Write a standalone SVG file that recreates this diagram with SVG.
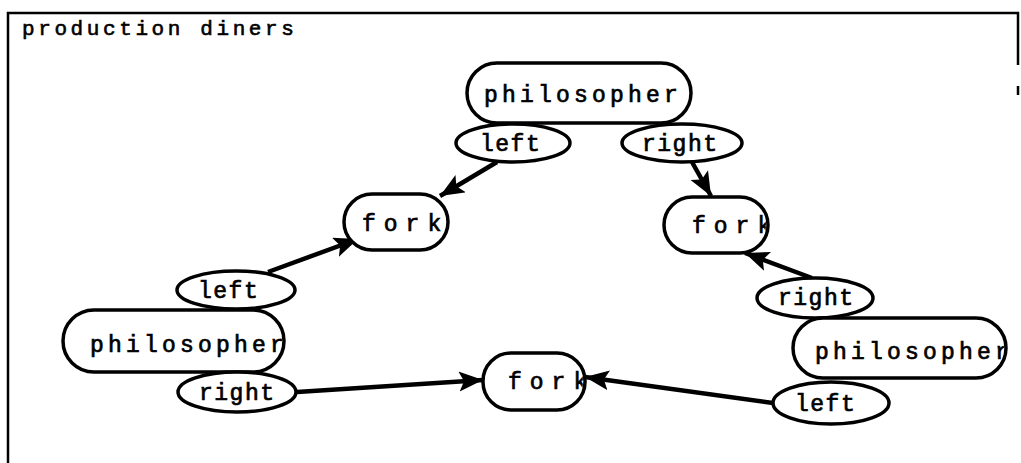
<svg xmlns="http://www.w3.org/2000/svg" width="1021" height="463" viewBox="0 0 1021 463">
<style>
.bg{fill:#fff}
.frame{fill:none;stroke:#000;stroke-width:2.5}
.node{fill:#fff;stroke:#000;stroke-width:3.5}
.lbl{fill:#fff;stroke:#000;stroke-width:3.5}
.t{font-family:"Liberation Mono","Courier New",monospace;font-size:23px;fill:#000;stroke:#000;stroke-width:0.7}
.tp{letter-spacing:4.2px}
.tl{letter-spacing:1.5px}
.tf{letter-spacing:8px}
.title{font-family:"Liberation Mono","Courier New",monospace;font-size:21px;letter-spacing:3.6px;fill:#000;stroke:#000;stroke-width:0.6}
.edge{stroke:#000;stroke-width:4.5;fill:none;marker-end:url(#ah)}
</style>
<defs>
<marker id="ah" markerUnits="userSpaceOnUse" markerWidth="26" markerHeight="22" refX="24" refY="10" orient="auto">
<path d="M0,0 L24,10 L0,20 L5,10 z" fill="#000"/>
</marker>
<clipPath id="cTR"><rect x="664" y="197" width="102" height="56" rx="28"/></clipPath>
<clipPath id="cB"><rect x="483" y="353" width="100" height="57" rx="28"/></clipPath>
<clipPath id="cPL"><rect x="63" y="310" width="219" height="62" rx="31"/></clipPath>
<clipPath id="cPR"><rect x="793" y="318" width="211" height="60" rx="30"/></clipPath>
</defs>
<rect class="bg" x="0" y="0" width="1021" height="463"/>
<g id="frame">
<path class="frame" d="M8,463 L8,13 L1018,13 L1018,65"/>
<path class="frame" d="M1018,86 L1018,95"/>
<text class="title" x="22" y="35">production diners</text>
</g>
<g id="connectors">
<line class="edge" x1="497" y1="162" x2="440" y2="196"/>
<line class="edge" x1="692" y1="162" x2="711" y2="196"/>
<line class="edge" x1="268" y1="272" x2="358" y2="239"/>
<line class="edge" x1="812" y1="278" x2="745" y2="253"/>
<line class="edge" x1="297" y1="392" x2="483" y2="380"/>
<line class="edge" x1="773" y1="403" x2="585" y2="377"/>
</g>
<g id="philosopher-top">
<rect class="node" x="467" y="63" width="224" height="60" rx="30"/>
<text class="t tp" x="484" y="102">philosopher</text>
</g>
<g id="label-top-left">
<ellipse class="lbl" cx="513" cy="143" rx="57" ry="19"/>
<text class="t tl" x="480" y="151">left</text>
</g>
<g id="label-top-right">
<ellipse class="lbl" cx="682" cy="143" rx="60" ry="19"/>
<text class="t tl" x="642" y="151">right</text>
</g>
<g id="fork-top-left">
<rect class="node" x="344" y="194" width="104" height="56" rx="28"/>
<text class="t tf" x="362" y="231">fork</text>
</g>
<g id="fork-top-right">
<rect class="node" x="664" y="197" width="104" height="56" rx="28"/>
<text class="t tf" x="692" y="233" clip-path="url(#cTR)">fork</text>
</g>
<g id="philosopher-left">
<rect class="node" x="63" y="310" width="221" height="62" rx="31"/>
<text class="t tp" x="90" y="352" clip-path="url(#cPL)">philosopher</text>
</g>
<g id="label-left-left">
<ellipse class="lbl" cx="236" cy="290" rx="59" ry="19"/>
<text class="t tl" x="198" y="298">left</text>
</g>
<g id="label-left-right">
<ellipse class="lbl" cx="237" cy="392" rx="59" ry="20"/>
<text class="t tl" x="199" y="400">right</text>
</g>
<g id="fork-bottom">
<rect class="node" x="483" y="353" width="102" height="57" rx="28"/>
<text class="t tf" x="508" y="389" clip-path="url(#cB)">fork</text>
</g>
<g id="label-right-right">
<ellipse class="lbl" cx="815" cy="298" rx="58" ry="20"/>
<text class="t tl" x="778" y="305">right</text>
</g>
<g id="philosopher-right">
<rect class="node" x="793" y="318" width="213" height="60" rx="30"/>
<text class="t tp" x="815" y="359" clip-path="url(#cPR)">philosopher</text>
</g>
<g id="label-right-left">
<ellipse class="lbl" cx="831" cy="403" rx="58" ry="21"/>
<text class="t tl" x="795" y="411">left</text>
</g>
</svg>
